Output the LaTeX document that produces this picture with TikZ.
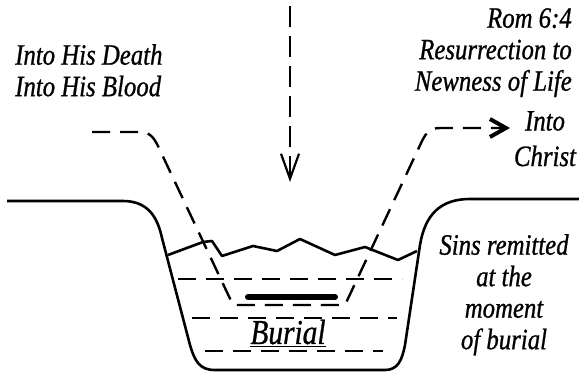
\documentclass[tikz,border=0pt]{standalone}
\usepackage{fontspec}
\newfontfamily\lblfont{Liberation Serif Italic}[FakeStretch=0.84, FakeBold=0.8]
\usetikzlibrary{arrows.meta}

\begin{document}
\begin{tikzpicture}[x=1pt, y=-1pt,
    lbl/.style={font=\fontsize{29.5}{31.5}\selectfont\lblfont, inner sep=0pt},
    dline/.style={line width=2.4pt, dash pattern=on 18pt off 10pt},
    wall/.style={line width=2.6pt, line join=round},
    arr/.style={-{Straight Barb[length=25pt, width=18pt, line width=2.2pt]}},
    harr/.style={-{Straight Barb[length=16pt, width=18pt, line width=4pt]}}
]
\useasboundingbox (0,0) rectangle (579,374);

% texts
\node[lbl, anchor=north west, align=left] (death) at (15,44) {Into His Death\\Into His Blood};
\node[lbl, anchor=north east, align=right] (rom) at (572,8) {Rom 6:4\\Resurrection to\\Newness of Life};
\node[lbl, anchor=north, align=center] (christ) at (545,111) {Into\\[4pt]Christ};
\node[lbl, anchor=north, align=center] (sins) at (504,234) {Sins remitted\\at the\\moment\\of burial};
\node[lbl, font=\fontsize{35}{38}\selectfont\lblfont, anchor=base] (burial) at (288,344) {\underline{Burial}};

% ground and basin
\draw[wall] (7,201) -- (123,201) .. controls (150,201) and (158,220) .. (162,238)
    -- (190,345) .. controls (195,362) and (200,370) .. (215,370) -- (385,370)
    .. controls (398,370) and (402,360) .. (405,345) -- (420,245)
    .. controls (425,215) and (440,199) .. (470,199) -- (579,199);

% water surface
\draw[wall] (168,255) -- (203,242) -- (212,241) -- (222,256) -- (253,246) -- (277,251)
    -- (300,239) -- (335,255) -- (365,247) -- (398,260) -- (417,251);

% water lines
\draw[dline] (178,279) -- (402,279);
\draw[dline] (192,318) -- (397,318);
\draw[dline] (205,351) -- (383,351);

% body
\draw[line width=6pt, line cap=round] (248,297) -- (335,297);

% path through the water
\coordinate (in) at (92,132);
\coordinate (out) at (510,128);
\draw[dline, harr] (in) -- (140,132) .. controls (150,132) and (154,138) .. (158,146)
    -- (233,305) -- (345,305) -- (422,141) .. controls (426,133) and (430,128) .. (440,128)
    -- (out);

% downward arrow
\coordinate (top) at (290,6);
\coordinate (tip) at (290,182);
\draw[line width=2.2pt, dash pattern=on 21pt off 9pt, arr] (top) -- (tip);
\end{tikzpicture}
\end{document}
